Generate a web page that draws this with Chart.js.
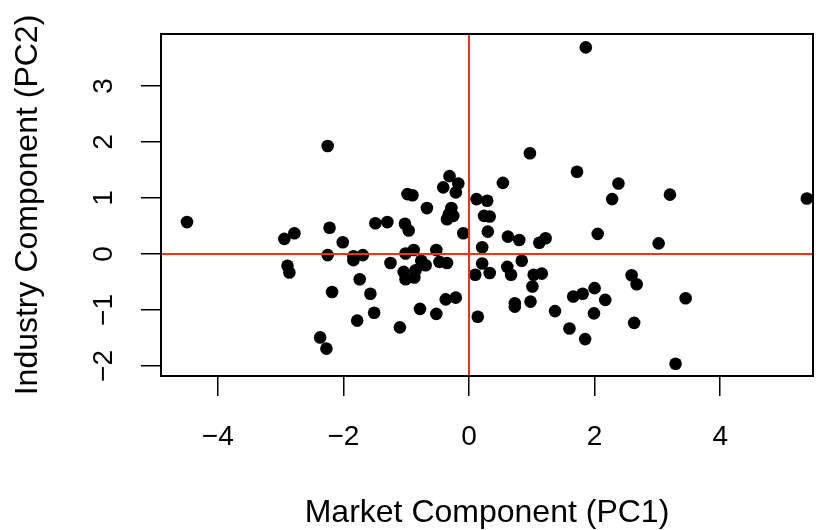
<!DOCTYPE html>
<html>
<head>
<meta charset="utf-8">
<script src="https://cdn.jsdelivr.net/npm/chart.js@4/dist/chart.umd.min.js"></script>
<style>
  html, body { margin: 0; padding: 0; background: #ffffff; }
  #wrap { width: 821px; height: 530px; }
</style>
</head>
<body>
<div id="wrap"><canvas id="c" width="821" height="530"></canvas></div>
<script>
// ---- data ----
const pc1 = [
  -2.25, -0.98, -0.90, -0.31, -0.17, -0.41, -0.21, -0.67, -0.28, 0.12,
  0.29, 1.86, 0.97, 1.72, 0.54, 2.38, 2.28, 3.20, 5.38, -4.49,
  -2.94, -2.78, -2.22, -2.01, -1.49, -1.30, -1.02, -0.96, -0.32, -0.25,
  -0.35, -0.09, 0.24, 0.33, 0.30, 0.21, 0.21, 0.33, 0.10, 0.14,
  -2.25, -2.89, -2.86, -1.84, -1.84, -1.69, -2.18, -1.74, -1.57, -1.51,
  -1.78, -1.25, -1.01, -0.88, -1.04, -0.85, -1.01, -0.87, -0.76, -0.69,
  -0.52, -0.47, -0.35, -0.78, -0.52, -0.37, -0.21, -1.10, -2.37, -2.27,
  0.62, 0.80, 1.12, 1.22, 2.05, 3.02, 0.84, 0.61, 0.67, 1.03,
  1.16, 1.01, 0.73, 0.73, 0.98, 1.37, 1.66, 1.81, 2.00, 2.17,
  1.99, 1.60, 1.85, 2.59, 2.67, 2.63, 3.45, 3.29
];
const pc2 = [
  1.93, 1.07, 1.05, 1.39, 1.26, 1.19, 1.10, 0.82, 0.82, 0.98,
  0.95, 3.69, 1.80, 1.47, 1.27, 1.26, 0.98, 1.06, 0.99, 0.57,
  0.27, 0.37, 0.47, 0.21, 0.55, 0.57, 0.54, 0.42, 0.71, 0.68,
  0.62, 0.37, 0.68, 0.67, 0.40, 0.12, -0.17, -0.34, -0.37, -1.12,
  -0.02, -0.21, -0.33, -0.04, -0.11, -0.02, -0.68, -0.45, -0.71, -1.05,
  -1.19, -0.16, 0.01, 0.07, -0.32, -0.29, -0.45, -0.42, -0.12, -0.20,
  0.07, -0.14, -0.16, -0.98, -1.07, -0.81, -0.78, -1.31, -1.49, -1.69,
  0.31, 0.25, 0.20, 0.28, 0.36, 0.19, -0.12, -0.23, -0.37, -0.37,
  -0.35, -0.58, -0.88, -0.94, -0.85, -1.02, -0.76, -0.71, -0.61, -0.82,
  -1.06, -1.33, -1.52, -0.38, -0.54, -1.23, -0.79, -1.96
];
const xTickValues = [-4, -2, 0, 2, 4];
const xTickLabels = ["\u22124", "\u22122", "0", "2", "4"];
const yTickValues = [-2, -1, 0, 1, 2, 3];
const yTickLabels = ["\u22122", "\u22121", "0", "1", "2", "3"];
const xTitle = "Market Component (PC1)";
const yTitle = "Industry Component (PC2)";
const refX = 0, refY = 0;

// ---- chart ----
const points = pc1.map((x, i) => ({ x: x, y: pc2[i] }));
const FONT = "'Liberation Sans', Arial, Helvetica, sans-serif";

const frame = {
  id: 'frame',
  afterDatasetsDraw(chart) {
    const { ctx, chartArea: a, scales } = chart;
    const x0 = scales.x.getPixelForValue(refX);
    const y0 = scales.y.getPixelForValue(refY);
    ctx.save();
    ctx.beginPath();
    ctx.rect(a.left, a.top, a.right - a.left, a.bottom - a.top);
    ctx.clip();
    ctx.strokeStyle = '#ff2d12';
    ctx.lineWidth = 2;
    ctx.beginPath();
    ctx.moveTo(x0, a.top); ctx.lineTo(x0, a.bottom);
    ctx.moveTo(a.left, y0); ctx.lineTo(a.right, y0);
    ctx.stroke();
    ctx.restore();
    ctx.save();
    ctx.strokeStyle = '#000';
    ctx.lineWidth = 2;
    ctx.strokeRect(a.left, a.top, a.right - a.left, a.bottom - a.top);
    ctx.restore();
  }
};

new Chart(document.getElementById('c'), {
  type: 'scatter',
  data: {
    datasets: [{
      data: points,
      backgroundColor: '#000000',
      borderWidth: 0,
      pointRadius: 6.3,
      pointHoverRadius: 6.3
    }]
  },
  options: {
    responsive: false,
    animation: false,
    events: [],
    layout: { padding: { top: 34, right: 8, left: 0, bottom: 0 } },
    plugins: { legend: { display: false }, tooltip: { enabled: false } },
    scales: {
      x: {
        type: 'linear',
        min: -4.904, max: 5.478,
        afterFit(s) { s.height = 154; s.paddingLeft = 0; s.paddingRight = 0; },
        afterBuildTicks(s) { s.ticks = xTickValues.map(v => ({ value: v })); },
        border: { display: false },
        grid: { drawOnChartArea: false, drawTicks: true, tickLength: 20, color: '#000', lineWidth: 1.5 },
        ticks: {
          autoSkip: false, maxRotation: 0, minRotation: 0, padding: 24,
          color: '#000', font: { family: FONT, size: 28 },
          callback(v) { const i = xTickValues.indexOf(v); return i >= 0 ? xTickLabels[i] : ''; }
        },
        title: { display: true, text: xTitle, color: '#000',
                 font: { family: FONT, size: 32, lineHeight: 1.0 }, padding: { top: 0, bottom: 1 } }
      },
      y: {
        type: 'linear',
        min: -2.179, max: 3.929,
        afterFit(s) { s.width = 161; s.paddingTop = 0; s.paddingBottom = 0; },
        afterBuildTicks(s) { s.ticks = yTickValues.map(v => ({ value: v })); },
        border: { display: false },
        grid: { drawOnChartArea: false, drawTicks: true, tickLength: 20, color: '#000', lineWidth: 1.5 },
        ticks: {
          autoSkip: false, minRotation: 90, maxRotation: 90, padding: 21, crossAlign: 'center',
          color: '#000', font: { family: FONT, size: 28 },
          callback(v) { const i = yTickValues.indexOf(v); return i >= 0 ? yTickLabels[i] : ''; }
        },
        title: { display: true, text: yTitle, color: '#000',
                 font: { family: FONT, size: 32, lineHeight: 1.0 }, padding: { top: 12, bottom: 0 } }
      }
    }
  },
  plugins: [frame]
});
</script>
</body>
</html>
